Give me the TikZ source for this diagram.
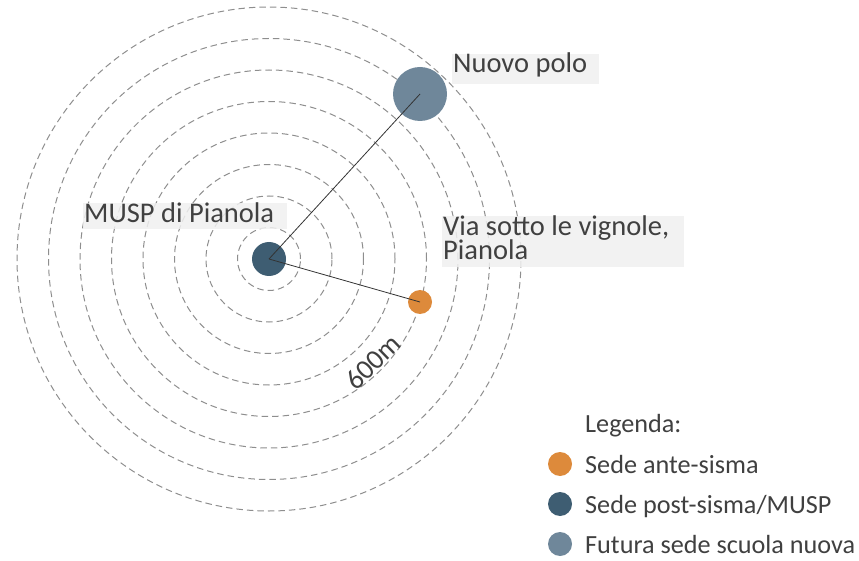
\documentclass[tikz,border=0pt]{standalone}
\usepackage{fontspec}
\setmainfont{Carlito}
\definecolor{txt}{HTML}{404040}
\definecolor{ringc}{HTML}{8E8E8E}
\definecolor{boxc}{HTML}{F0F0F0}
\definecolor{muspc}{HTML}{3E5D72}
\definecolor{nuovoc}{HTML}{6F879A}
\definecolor{antec}{HTML}{DD8A3B}
\definecolor{linec}{HTML}{333333}
\tikzset{
  ring/.style={draw=ringc, line width=1pt, dash pattern=on 6.5pt off 4pt},
  dot/.style={circle, inner sep=0pt, draw=none},
  labelbox/.style={rectangle, inner sep=0pt, fill=boxc, fill opacity=0.85, draw=none, anchor=north west},
  lbl/.style={inner sep=0pt, text=txt, font=\fontsize{28.5}{24}\selectfont, anchor=base west},
  leg/.style={inner sep=0pt, text=txt, font=\fontsize{26.2}{30}\selectfont, anchor=base west},
  conn/.style={draw=linec, line width=0.8pt},
}
\begin{document}
\begin{tikzpicture}[x=1pt, y=-1pt]
\useasboundingbox (0,0) rectangle (859,561);
\coordinate (c) at (269,259);
% rings
\foreach \k in {1,...,8} {
  \draw[ring] (c) circle[radius={31.5pt*\k}];
}
% label boxes
\node[labelbox, minimum width=147pt, minimum height=30pt] (nuovobox) at (452,54) {};
\node[labelbox, minimum width=204pt, minimum height=26pt] (muspbox) at (83,203) {};
\node[labelbox, minimum width=242pt, minimum height=51pt] (viabox) at (442,216) {};
% labels
\node[lbl] (nuovotxt) at (453,73) {Nuovo polo};
\node[lbl] (musptxt) at (84,223) {MUSP di Pianola};
\node[lbl] (viatxt1) at (443,236) {Via sotto le vignole,};
\node[lbl] (viatxt2) at (443,260) {Pianola};
\node[inner sep=0pt, text=txt, font=\fontsize{28}{30}\selectfont, rotate=44] (dist) at (373,362) {600m};
% dots
\node[dot, fill=muspc, minimum size=34pt] (musp) at (269,259) {};
\node[dot, fill=nuovoc, minimum size=54pt] (nuovo) at (420,94) {};
\node[dot, fill=antec, minimum size=24pt] (ante) at (420,302) {};
% connectors
\draw[conn] (musp.center) -- (nuovo.center);
\draw[conn] (musp.center) -- (ante.center);
% legend
\node[leg] (legtitle) at (585,432) {Legenda:};
\node[dot, fill=antec, minimum size=24pt] (legante) at (560,464) {};
\node[leg] (leganteTxt) at (585,473) {Sede ante-sisma};
\node[dot, fill=muspc, minimum size=24pt] (legmusp) at (560,504) {};
\node[leg] (legmuspTxt) at (585,513) {Sede post-sisma/MUSP};
\node[dot, fill=nuovoc, minimum size=24pt] (legnuovo) at (560,544) {};
\node[leg] (legnuovoTxt) at (585,553) {Futura sede scuola nuova};
\end{tikzpicture}
\end{document}
